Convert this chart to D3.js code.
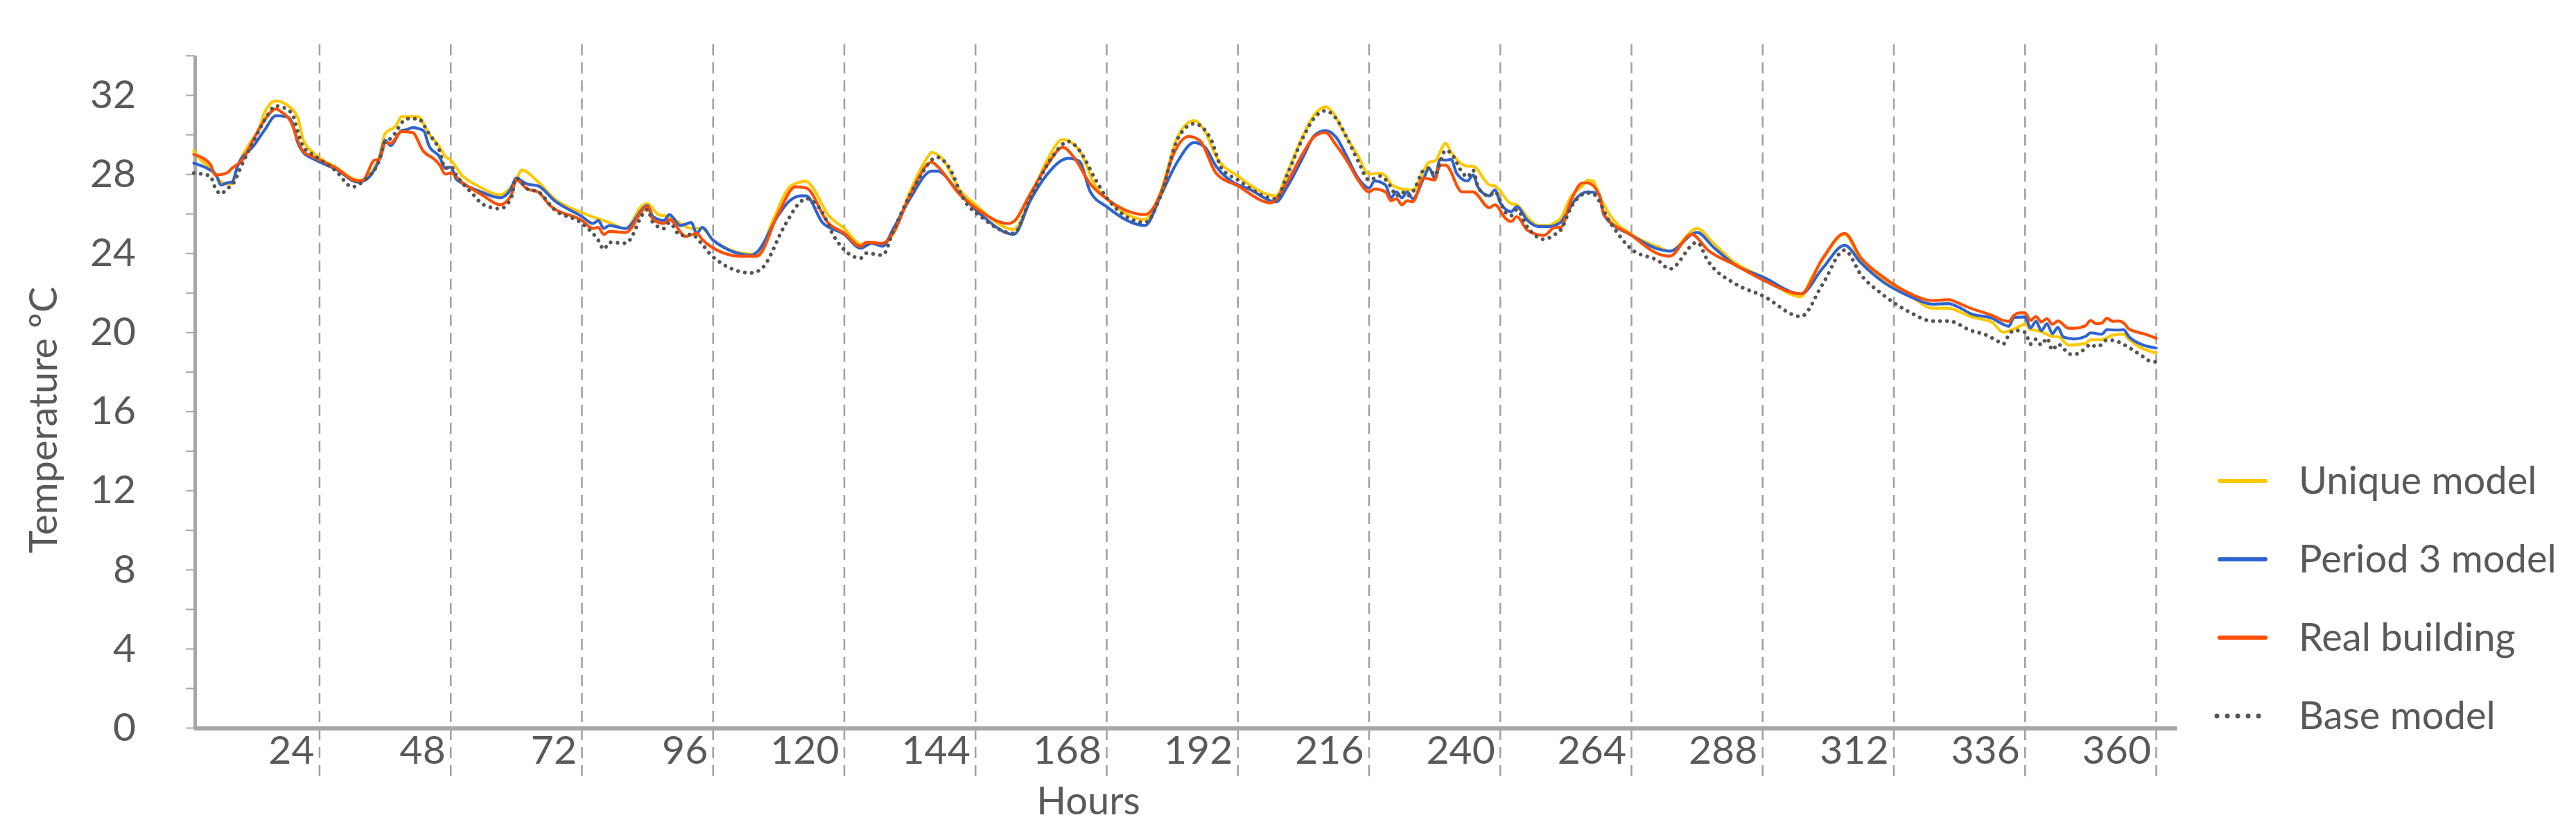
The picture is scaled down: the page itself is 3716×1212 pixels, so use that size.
<!DOCTYPE html>
<html>
<head>
<meta charset="utf-8">
<script src="https://cdn.jsdelivr.net/npm/d3@7"></script>
<style>
	body { margin: 0; background: #fff; }
	svg { display: block; font-family: Lato, "Open Sans", sans-serif; }
</style>
</head>
<body>
<svg id="chart" width="3716" height="1212"></svg>
<script>
// hour labels on the x axis and temperature ticks on the y axis
const hourTicks = [24, 48, 72, 96, 120, 144, 168, 192, 216, 240, 264, 288, 312, 336, 360];
const tempTicks = [0, 2, 4, 6, 8, 10, 12, 14, 16, 18, 20, 22, 24, 26, 28, 30, 32, 34];

// [hour, temperature ºC]
const uniqueModel = [[1,29.2],[2,28.8],[4,28.3],[6,27.6],[7,27.5],[8,27.5],[9,28.4],[11,29.45],[13,30.35],[14,31.15],[16,31.7],[18,31.5],[20,30.85],[21,29.75],[23,29.05],[27,28.35],[31,27.7],[32,27.7],[33,27.9],[35,28.95],[36,30.05],[38,30.45],[39,30.9],[42,30.9],[44,30.05],[46,29.35],[47,28.9],[48,28.7],[50,27.95],[53,27.4],[56,27.0],[57,26.95],[59,27.35],[60,27.75],[61,28.2],[64,27.6],[67,26.75],[72,26.05],[77,25.55],[80,25.25],[83,26.4],[84,26.5],[86,25.95],[88,25.85],[91,25.35],[92,25.25],[94,25.25],[96,24.65],[103,23.95],[104,23.95],[107,25.7],[110,27.35],[112,27.6],[113,27.64],[114,27.4],[117,25.95],[120,25.25],[123,24.45],[125,24.55],[127,24.45],[129,25.0],[132,27.1],[135,28.75],[136,29.1],[138,28.75],[141,27.25],[144,26.45],[151,25.2],[154,26.75],[157,28.65],[160,29.75],[163,29.2],[166,27.35],[168,26.75],[175,25.7],[178,27.2],[181,29.9],[184,30.7],[186,30.15],[188,28.9],[192,27.9],[199,26.9],[201,28.05],[204,30.0],[206,31.0],[208,31.4],[210,30.85],[211,30.3],[214,28.9],[216,28.0],[218,28.05],[219,27.9],[220,27.5],[222,27.25],[224,27.2],[226,28.2],[227,28.6],[228,28.65],[230,29.55],[231,29.1],[234,28.4],[235,28.4],[238,27.45],[239,27.4],[242,26.5],[243,26.45],[245,25.8],[247,25.4],[249,25.4],[250,25.55],[251,25.75],[253,26.9],[255,27.4],[256,27.7],[257,27.65],[258,27.0],[260,25.95],[264,24.95],[269,24.3],[271,24.1],[276,25.25],[279,24.5],[283,23.5],[288,22.8],[295,21.8],[297,22.8],[299,23.7],[303,24.95],[306,23.6],[310,22.65],[315,21.85],[319,21.22],[322,21.22],[324,21.04],[326,20.8],[330,20.5],[332,20.0],[335,20.3],[336,20.43],[337,20.13],[338,20.1],[340,19.9],[341,19.78],[342,19.78],[344,19.35],[347,19.43],[348,19.62],[350,19.62],[352,19.85],[354,19.9],[355,19.64],[357,19.25],[360,18.95]];

const period3Model = [[1,28.55],[3,28.35],[4,28.2],[5,28.0],[6,27.45],[7,27.55],[8,27.6],[9,28.4],[12,29.45],[14,30.25],[16,30.95],[18,30.9],[19,30.6],[20,29.6],[21,29.1],[23,28.75],[27,28.25],[31,27.6],[32,27.65],[35,28.8],[36,29.7],[37,29.45],[39,30.2],[40,30.25],[41,30.35],[43,30.2],[44,29.45],[46,28.85],[47,28.3],[48,28.35],[49,27.75],[50,27.55],[54,27.05],[56,26.85],[57,26.8],[59,27.25],[60,27.8],[61,27.65],[62,27.5],[64,27.4],[67,26.65],[72,25.85],[74,25.5],[75,25.65],[76,25.25],[77,25.4],[80,25.25],[84,26.4],[85,25.85],[87,25.65],[88,25.95],[90,25.4],[92,25.55],[93,25.0],[94,25.3],[96,24.65],[103,23.9],[104,24.05],[108,25.95],[110,26.65],[112,26.9],[113,26.9],[116,25.55],[120,24.95],[123,24.25],[125,24.5],[127,24.35],[129,25.25],[132,26.75],[136,28.15],[137,28.15],[141,27.05],[145,25.95],[151,24.95],[154,26.65],[157,27.95],[161,28.8],[163,28.65],[165,27.1],[168,26.35],[175,25.4],[178,27.0],[181,28.65],[184,29.6],[186,29.35],[188,28.4],[191,27.6],[194,27.25],[199,26.6],[201,27.35],[204,28.9],[206,29.95],[208,30.2],[210,29.85],[212,28.85],[214,27.8],[216,27.3],[217,27.65],[219,27.45],[220,26.8],[221,27.1],[222,26.8],[223,27.1],[224,26.75],[226,27.8],[227,28.3],[228,27.8],[229,28.75],[230,28.7],[231,28.75],[232,28.05],[234,27.65],[235,27.95],[236,27.3],[238,26.9],[239,27.2],[240,26.55],[242,26.1],[243,26.35],[245,25.65],[247,25.35],[249,25.35],[251,25.55],[252,25.95],[254,26.8],[256,27.1],[258,27.0],[259,25.9],[264,24.9],[269,24.2],[271,24.1],[276,25.05],[279,24.3],[283,23.4],[288,22.8],[295,21.95],[299,23.25],[303,24.4],[306,23.5],[310,22.55],[315,21.8],[319,21.42],[322,21.45],[324,21.25],[326,20.95],[330,20.7],[332,20.4],[333,20.3],[334,20.75],[336,20.77],[337,20.22],[338,20.55],[339,20.08],[340,20.43],[341,19.93],[342,20.25],[343,19.76],[345,19.66],[347,19.78],[348,19.97],[350,19.9],[351,20.13],[353,20.11],[354,20.13],[355,19.78],[357,19.42],[360,19.2]];

const realBuilding = [[1,29.0],[3,28.75],[4,28.5],[5,27.95],[7,28.05],[8,28.3],[10,28.75],[12,29.8],[14,30.75],[16,31.3],[17,31.15],[19,30.5],[20,29.7],[21,29.15],[23,28.85],[27,28.3],[31,27.65],[32,27.7],[34,28.7],[35,28.75],[36,29.6],[37,29.55],[39,30.15],[41,30.1],[43,29.15],[45,28.75],[46,28.45],[47,28.0],[48,28.05],[50,27.6],[54,26.9],[57,26.45],[59,26.9],[60,27.7],[62,27.25],[64,27.1],[66,26.45],[72,25.65],[74,25.25],[75,25.3],[76,24.95],[77,25.1],[80,25.05],[84,26.35],[85,25.7],[87,25.5],[88,25.7],[91,24.85],[93,25.0],[94,24.7],[95,24.45],[101,23.85],[104,23.85],[108,26.05],[111,27.35],[113,27.3],[117,25.55],[120,25.0],[123,24.35],[124,24.55],[127,24.5],[129,25.05],[132,26.9],[136,28.6],[137,28.4],[141,27.0],[144,26.3],[150,25.5],[151,25.6],[154,27.0],[157,28.4],[160,29.35],[162,28.85],[165,27.5],[168,26.75],[175,25.95],[178,27.1],[180,28.85],[183,29.9],[185,29.7],[188,28.05],[192,27.4],[198,26.55],[201,27.6],[204,29.1],[206,29.9],[208,30.1],[210,29.45],[212,28.65],[214,27.7],[216,27.1],[217,27.25],[219,27.1],[220,26.65],[221,26.75],[222,26.45],[223,26.65],[224,26.6],[226,27.8],[228,27.7],[229,28.45],[230,28.45],[233,27.1],[235,27.1],[238,26.3],[239,26.45],[241,25.75],[242,25.6],[243,25.85],[245,25.15],[248,24.9],[250,25.3],[251,25.3],[253,26.7],[255,27.55],[256,27.55],[258,27.0],[259,25.95],[264,24.9],[269,23.95],[271,23.85],[275,24.95],[278,24.15],[283,23.4],[288,22.65],[295,21.95],[299,23.75],[303,25.0],[306,23.75],[310,22.8],[315,21.95],[319,21.6],[322,21.65],[324,21.45],[326,21.22],[330,20.85],[332,20.6],[333,20.55],[334,20.87],[335,20.98],[336,20.98],[337,20.6],[338,20.79],[339,20.52],[340,20.69],[341,20.4],[342,20.57],[344,20.2],[345,20.2],[347,20.32],[348,20.6],[349,20.43],[350,20.46],[351,20.71],[352,20.55],[353,20.57],[354,20.48],[355,20.17],[358,19.9],[360,19.7]];

const baseModel = [[1,28.05],[4,27.9],[5,27.25],[6,27.0],[7,27.25],[8,27.45],[10,28.6],[12,29.7],[14,30.75],[16,31.45],[17,31.4],[19,31.05],[20,30.15],[21,29.4],[23,28.95],[27,28.15],[30,27.35],[32,27.65],[35,28.75],[36,29.65],[37,29.8],[40,30.8],[42,30.8],[44,30.05],[46,29.15],[47,28.3],[48,28.4],[49,27.95],[52,27.0],[54,26.45],[57,26.25],[59,26.75],[60,27.8],[62,27.25],[64,27.1],[67,26.2],[72,25.5],[75,24.65],[76,24.2],[77,24.55],[80,24.5],[84,26.2],[85,25.55],[87,25.25],[88,25.55],[90,24.9],[92,24.95],[94,24.45],[96,23.8],[103,23.0],[105,23.25],[109,25.35],[112,26.6],[113,26.76],[116,26.05],[118,24.9],[123,23.75],[124,24.0],[127,23.9],[129,25.15],[133,27.45],[137,28.85],[139,28.4],[142,26.65],[145,25.85],[151,25.0],[154,26.75],[158,28.85],[161,29.65],[163,29.2],[166,27.7],[168,26.8],[175,25.55],[178,27.0],[181,29.8],[184,30.55],[187,29.8],[189,28.3],[192,27.7],[199,26.75],[201,27.95],[204,29.9],[206,30.85],[208,31.2],[210,30.8],[212,29.8],[214,28.65],[216,27.7],[218,27.9],[220,27.35],[221,26.9],[222,27.1],[223,26.9],[224,27.1],[226,28.2],[227,28.3],[228,27.95],[230,29.2],[231,29.05],[233,28.1],[234,27.85],[235,28.2],[236,27.3],[238,26.9],[239,27.1],[241,26.05],[242,25.9],[243,26.2],[245,25.3],[248,24.7],[250,24.95],[251,25.15],[253,26.35],[256,27.05],[257,27.0],[260,25.6],[264,24.2],[269,23.6],[271,23.2],[276,24.55],[278,23.6],[283,22.45],[288,21.85],[295,20.8],[299,22.45],[303,24.15],[306,22.9],[310,21.9],[315,21.0],[319,20.57],[322,20.57],[326,20.1],[329,19.85],[331,19.55],[332,19.4],[333,19.85],[334,20.1],[336,20.0],[337,19.4],[338,19.65],[339,19.35],[340,19.7],[341,19.1],[342,19.4],[343,19.2],[344,18.9],[345,18.88],[347,19.17],[348,19.4],[349,19.27],[350,19.38],[351,19.62],[353,19.52],[355,19.23],[357,18.88],[359,18.53],[360,18.5]];

const seriesNames = ['Unique model', 'Period 3 model', 'Real building', 'Base model'];
const seriesColors = ['#FFC800', '#2F63CF', '#FF4F00', '#555555'];
const seriesData = [uniqueModel, period3Model, realBuilding, baseModel];

const svg = d3.select('#chart');
const textColor = '#595959';
const axisColor = '#A6A6A6';

// Scales
const x = d3.scaleLinear().domain([1, 360]).range([279.6, 3110.5]);
const y = d3.scaleLinear().domain([0, 34]).range([1050, 80]);

// Dashed vertical gridlines, running through the labels below the axis
svg.append('g')
	.selectAll('line')
	.data(hourTicks)
	.join('line')
	.attr('x1', d => x(d)).attr('x2', d => x(d))
	.attr('y1', 64).attr('y2', 1125)
	.attr('stroke', '#A0A0A0')
	.attr('stroke-width', 2.5)
	.attr('stroke-dasharray', '16 10');

// Y axis
const yAxis = svg.append('g')
	.attr('transform', `translate(${x(1) + 1.5},0)`)
	.call(d3.axisLeft(y)
		.tickValues(tempTicks)
		.tickSize(13)
		.tickSizeOuter(0)
		.tickPadding(72)
		.tickFormat(d => d % 4 === 0 && d <= 32 ? d : ''));
yAxis.select('.domain').attr('stroke', axisColor).attr('stroke-width', 5);
yAxis.selectAll('.tick line').attr('stroke', axisColor).attr('stroke-width', 2);
yAxis.selectAll('.tick text')
	.attr('fill', textColor)
	.style('font-size', '57px')
	.style('font-family', 'Lato, sans-serif');

// X axis (labels sit just left of each gridline)
const xAxis = svg.append('g')
	.attr('transform', `translate(0,${y(0) + 1})`)
	.call(d3.axisBottom(x)
		.tickValues(hourTicks)
		.tickSize(0)
		.tickSizeOuter(0));
xAxis.select('.domain').remove();
xAxis.selectAll('.tick text')
	.attr('text-anchor', 'end')
	.attr('x', -8)
	.attr('y', 51)
	.attr('dy', null)
	.attr('fill', textColor)
	.style('font-size', '57px')
	.style('font-family', 'Lato, sans-serif');

svg.append('line')
	.attr('x1', x(1)).attr('x2', x(360) + 30)
	.attr('y1', y(0) + 1).attr('y2', y(0) + 1)
	.attr('stroke', axisColor)
	.attr('stroke-width', 6);

// Axis titles
svg.append('text')
	.attr('x', 1570).attr('y', 1175)
	.attr('text-anchor', 'middle')
	.attr('fill', textColor)
	.style('font-size', '56px')
	.text('Hours');

svg.append('text')
	.attr('transform', 'translate(82,606) rotate(-90)')
	.attr('text-anchor', 'middle')
	.attr('fill', textColor)
	.style('font-size', '56px')
	.text('Temperature ºC');

// Curves
const lineGenerator = d3.line()
	.x(d => x(d[0]))
	.y(d => y(d[1]))
	.curve(d3.curveMonotoneX);

const isDotted = i => i === 3;

svg.append('g')
	.selectAll('path')
	.data(seriesData)
	.join('path')
	.attr('d', d => lineGenerator(d))
	.attr('fill', 'none')
	.attr('stroke', (d, i) => seriesColors[i])
	.attr('stroke-width', (d, i) => isDotted(i) ? 5.5 : 4.2)
	.attr('stroke-linecap', 'round')
	.attr('stroke-linejoin', 'round')
	.attr('stroke-dasharray', (d, i) => isDotted(i) ? '0.01 10' : null);

// Legend
const legend = svg.append('g')
	.selectAll('g')
	.data(seriesNames)
	.join('g')
	.attr('transform', (d, i) => `translate(3202,${694 + i * 113})`);

legend.append('line')
	.attr('x1', (d, i) => isDotted(i) ? -4 : 0)
	.attr('x2', (d, i) => isDotted(i) ? 71 : 66)
	.attr('stroke', (d, i) => seriesColors[i])
	.attr('stroke-width', (d, i) => isDotted(i) ? 7 : 6)
	.attr('stroke-linecap', 'round')
	.attr('stroke-dasharray', (d, i) => isDotted(i) ? '0.01 15' : null);

legend.append('text')
	.attr('x', 114)
	.attr('y', 19)
	.attr('fill', textColor)
	.style('font-size', '56px')
	.text(d => d);
</script>
</body>
</html>
